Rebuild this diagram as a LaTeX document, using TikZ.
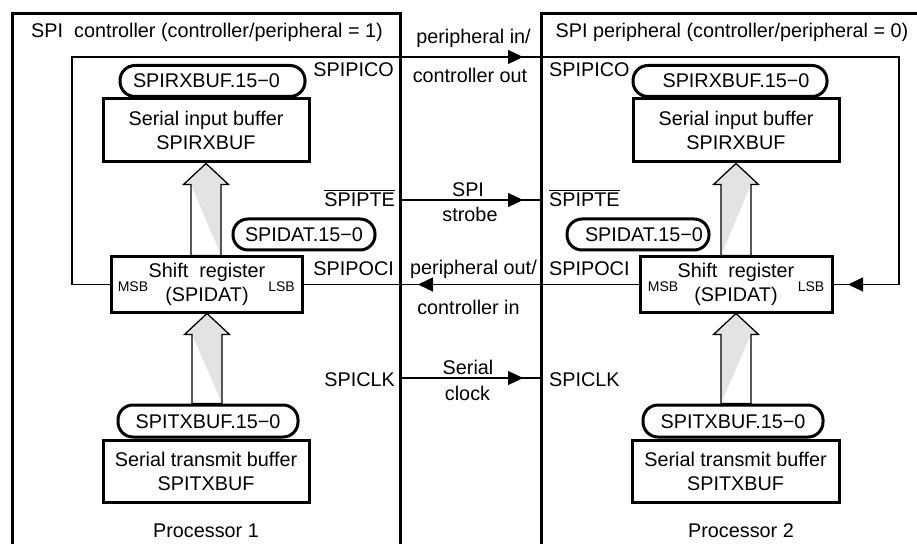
\documentclass[tikz,border=0pt]{standalone}
\usepackage{fontspec}
\setmainfont{Liberation Sans}
\usetikzlibrary{arrows.meta,calc}
\newcommand\blkarrow[3]{% #1 bottom node, #2 tip node, #3 = 1 shade right / -1 shade left
  \path let \p1=(#1.north), \p2=(#2.south) in
    [fill=black!11] (\x2,\y2) -- ({\x2+22.5bp},{\y2-21bp}) -- ({\x2-22.5bp},{\y2-21bp}) -- cycle
    [fill=black!11] ({\x2-15bp},{\y2-21bp}) -- ({\x2+15bp},{\y2-21bp}) -- ({\x2+(#3)*15bp},\y1) -- cycle;
  \draw[wire, line join=miter] let \p1=(#1.north), \p2=(#2.south) in
    (\x2,\y2) -- ({\x2+22.5bp},{\y2-21bp}) -- ({\x2+15bp},{\y2-21bp}) -- ({\x2+15bp},\y1)
    -- ({\x2-15bp},\y1) -- ({\x2-15bp},{\y2-21bp}) -- ({\x2-22.5bp},{\y2-21bp}) -- cycle;
}
\begin{document}
\begin{tikzpicture}[x=1bp,y=-1bp,
  font=\fontsize{19.8bp}{24bp}\selectfont,
  procframe/.style={line width=3bp},
  blk/.style={draw, line width=3bp, inner sep=0pt, align=center},
  pill/.style={draw, line width=3bp, rounded corners=15bp, inner sep=0pt, minimum height=31bp, text height=14bp, text depth=0pt},
  lbl/.style={inner sep=0pt, text height=14bp, text depth=0pt},
  smalllbl/.style={inner sep=0pt, font=\fontsize{14bp}{16bp}\selectfont, text height=10bp, text depth=0pt},
  wire/.style={line width=1.3bp},
  arr/.style={wire, -{Triangle[length=15bp,width=14bp]}},
]
\useasboundingbox (0,0) rectangle (917,544);
% processor frames
\node[inner sep=0pt, minimum width=388bp, minimum height=600bp, anchor=north west] (P1) at (12,14) {};
\node[inner sep=0pt, minimum width=420bp, minimum height=600bp, anchor=north west] (P2) at (541,14) {};
\draw[procframe] (P1.south west) -- (P1.north west) -- (P1.north east) -- (P1.south east);
\draw[procframe] (P2.south west) -- (P2.north west) -- (P2.north east);
\node[lbl] (t1) at (207,31) {SPI\ \ controller (controller/peripheral = 1)};
\node[lbl] (t2) at (732,31) {SPI peripheral (controller/peripheral = 0)};

% processor 1 blocks
\node[pill, minimum width=185bp] (rxp1) at (212.5,81) {SPIRXBUF.15−0\hspace*{12bp}};
\node[blk, minimum width=206bp, minimum height=63bp] (rx1) at (206,130.5) {Serial input buffer\\SPIRXBUF};
\node[pill, minimum width=142bp] (datp1) at (304,234.5) {SPIDAT.15−0};
\node[blk, minimum width=191bp, minimum height=55bp] (sr1) at (207,284.5) {Shift\ \ register\\(SPIDAT)};
\node[smalllbl] (msb1) at (133,287) {MSB};
\node[smalllbl] (lsb1) at (281.5,287) {LSB};
\node[pill, minimum width=180bp, minimum height=32bp] (txp1) at (208,421) {SPITXBUF.15−0};
\node[blk, minimum width=206bp, minimum height=62bp] (tx1) at (206,471) {Serial transmit buffer\\SPITXBUF};
\node[lbl] (pr1) at (206,530) {Processor 1};

% processor 2 blocks
\node[pill, minimum width=194bp] (rxp2) at (730,81) {\hspace*{12bp}SPIRXBUF.15−0};
\node[blk, minimum width=206bp, minimum height=63bp] (rx2) at (736,130.5) {Serial input buffer\\SPIRXBUF};
\node[pill, minimum width=142bp] (datp2) at (638,234.5) {\hspace*{12bp}SPIDAT.15−0};
\node[blk, minimum width=192bp, minimum height=55bp] (sr2) at (736,284.5) {Shift\ \ register\\(SPIDAT)};
\node[smalllbl] (msb2) at (663,287) {MSB};
\node[smalllbl] (lsb2) at (811,287) {LSB};
\node[pill, minimum width=180bp, minimum height=32bp] (txp2) at (733,421) {SPITXBUF.15−0};
\node[blk, minimum width=207bp, minimum height=62bp] (tx2) at (735.5,471) {Serial transmit buffer\\SPITXBUF};
\node[lbl] (pr2) at (741,530) {Processor 2};

% pin labels
\node[lbl, anchor=east] (picoL) at (394,70) {SPIPICO};
\node[lbl, anchor=west] (picoR) at (549,70) {SPIPICO};
\node[lbl, anchor=east] (pteL) at (395,200) {SPIPTE};
\node[lbl, anchor=west] (pteR) at (549,200) {SPIPTE};
\draw[line width=1.4bp] ([yshift=2.5bp]pteL.north west) -- ([yshift=2.5bp]pteL.north east);
\draw[line width=1.4bp] ([yshift=2.5bp]pteR.north west) -- ([yshift=2.5bp]pteR.north east);
\node[lbl, anchor=east] (pociL) at (394,269) {SPIPOCI};
\node[lbl, anchor=west] (pociR) at (549,269) {SPIPOCI};
\node[lbl, anchor=east] (clkL) at (395,379) {SPICLK};
\node[lbl, anchor=west] (clkR) at (549,379) {SPICLK};

% signal names between processors
\node[lbl] (m1) at (473.5,37) {peripheral in/};
\node[lbl] (m2) at (470,76) {controller out};
\node[lbl] (m3) at (468,190) {SPI};
\node[lbl] (m4) at (470,215) {strobe};
\node[lbl] (m5) at (473.5,268) {peripheral out/};
\node[lbl] (m6) at (468.5,308) {controller in};
\node[lbl] (m7) at (468,367) {Serial};
\node[lbl] (m8) at (467.5,393) {clock};

% connectors
\coordinate (c1) at (72,57);
\coordinate (c2) at (899,57);
\coordinate (a1) at (523,57);
\coordinate (a2) at (848,284.5);
\coordinate (a3) at (418,284.5);
\coordinate (a4) at (523,200);
\coordinate (a5) at (523,378);
\draw[wire] (sr1.west) -| (c1) -- (c2) |- (sr2.east);
\draw[arr] (c1) -- (a1);
\draw[arr] (c2 |- sr2.east) -- (a2);
\draw[wire] (sr2.west) -- (sr1.east);
\draw[arr] (sr2.west) -- (a3);
\draw[wire] (P1.east |- a4) -- (P2.west |- a4);
\draw[arr] (P1.east |- a4) -- (a4);
\draw[wire] (P1.east |- a5) -- (P2.west |- a5);
\draw[arr] (P1.east |- a5) -- (a5);

% block arrows
\blkarrow{sr1}{rx1}{1}
\blkarrow{txp1}{sr1}{1}
\blkarrow{sr2}{rx2}{-1}
\blkarrow{txp2}{sr2}{-1}
\end{tikzpicture}
\end{document}
